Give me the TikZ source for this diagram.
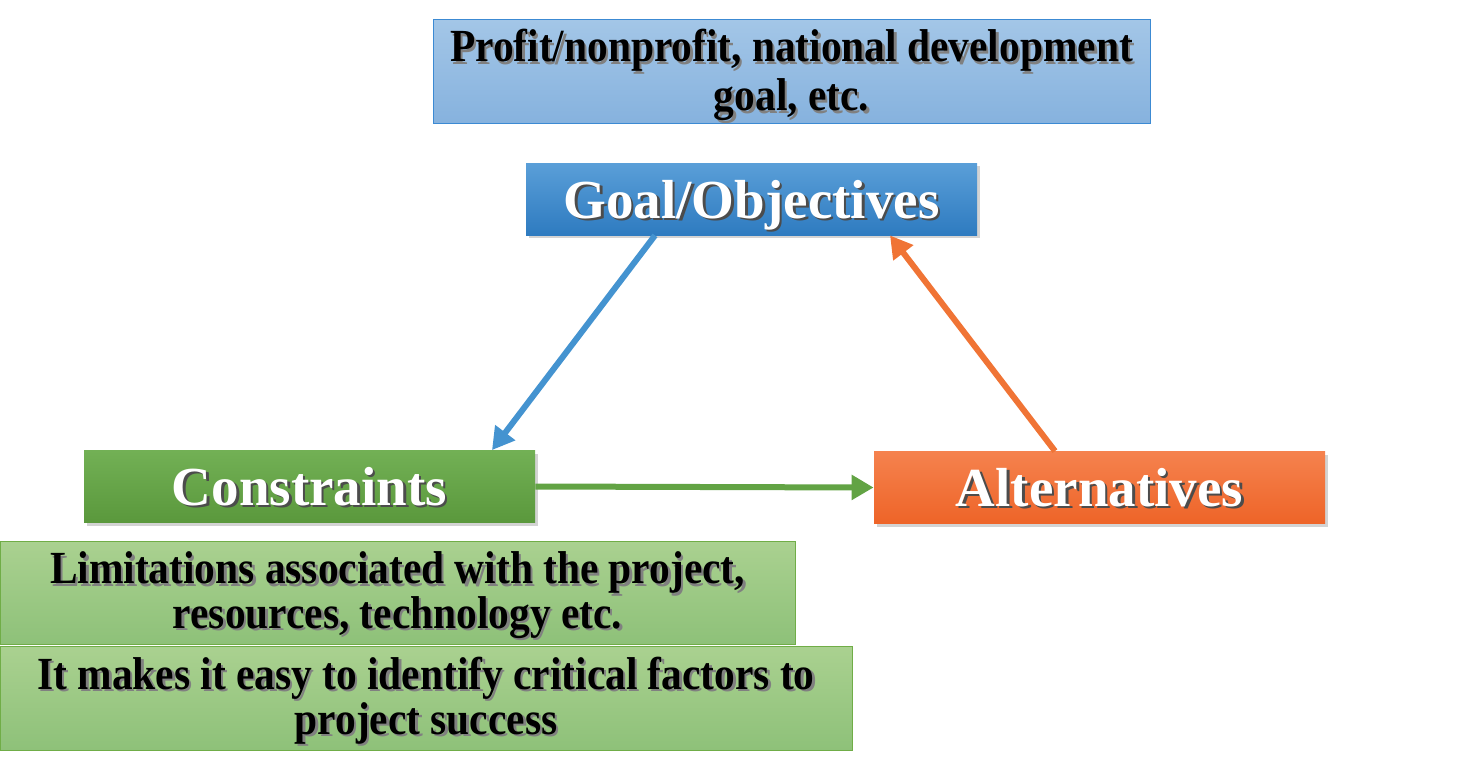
\documentclass[tikz,border=0pt]{standalone}
\usepackage{fontspec}
\setmainfont{Liberation Serif}
\newfontfamily\condfont[FakeStretch=0.9]{Liberation Serif}
\usepackage{tikz}
\usetikzlibrary{arrows.meta,positioning,shadows}
\definecolor{goaltop}{HTML}{5A9FD8}
\definecolor{goalbot}{HTML}{2E7BC0}
\definecolor{constop}{HTML}{72B055}
\definecolor{consbot}{HTML}{5A983C}
\definecolor{alttop}{HTML}{F5824E}
\definecolor{altbot}{HTML}{EE6428}
\definecolor{skytop}{HTML}{A3C6E7}
\definecolor{skybot}{HTML}{86B2DE}
\definecolor{skyline}{HTML}{3C8AD3}
\definecolor{leaftop}{HTML}{AAD190}
\definecolor{leafbot}{HTML}{8EC179}
\definecolor{leafline}{HTML}{70AD47}
\definecolor{bluearr}{HTML}{4493D0}
\definecolor{orangearr}{HTML}{F07435}
\definecolor{greenarr}{HTML}{62A344}
\newcommand\shd[2]{\makebox[0pt][l]{\kern1.2pt\raisebox{-1.2pt}{\textcolor{#1}{#2}}}#2}
\newcommand\twolines[3]{\raisebox{#1}[\height][\depth]{\begin{tabular}{@{}c@{}}\shd{gray}{#2}\\\shd{gray}{#3}\end{tabular}}}

\begin{document}
\begin{tikzpicture}[
  x=0.5pt, y=-0.5pt,
  every node/.style={inner sep=0pt},
  title/.style={minimum height=36pt, minimum width=225.5pt, text=white,
    text height=19pt, text depth=0pt,
    font=\bfseries\fontsize{27.5}{30}\selectfont,
    drop shadow={shadow xshift=1.5pt, shadow yshift=-1.5pt, opacity=0.35}},
  note/.style={draw, line width=0.5pt, minimum height=52pt,
    font=\condfont\bfseries\fontsize{23}{21.5}\selectfont},
  arr/.style={-{Triangle[length=11pt,width=12pt]}, line width=3pt}
]
\useasboundingbox (0,0) rectangle (1470,772);

\node[note, draw=skyline, top color=skytop, bottom color=skybot, minimum width=358.5pt,
  font=\condfont\bfseries\fontsize{23}{24.5}\selectfont]
  (purpose) at (791.5,71.5) {\twolines{-2.5pt}{Profit/nonprofit, national development}{goal, etc.}};

\node[title, top color=goaltop, bottom color=goalbot] (goal) at (751.5,199) {\shd{black!70}{Goal/Objectives}};
\node[title, top color=constop, bottom color=consbot] (constr) at (309.5,486.5) {\shd{black!70}{Constraints}};
\node[title, top color=alttop, bottom color=altbot] (alt) at (1099.5,487.5) {\shd{black!70}{Alternatives}};

\node[note, draw=leafline, top color=leaftop, bottom color=leafbot, minimum width=397.5pt, minimum height=51.5pt]
  (limits) at (397.5,592.5) {\twolines{-2pt}{Limitations associated with the project,}{resources, technology etc.}};
\node[note, draw=leafline, top color=leaftop, bottom color=leafbot, minimum width=426pt]
  (factors) at (426,698) {\twolines{-2pt}{It makes it easy to identify critical factors to}{project success}};

\draw[arr, bluearr] ([xshift=-48.25pt]goal.south) -- ([xshift=91.25pt]constr.north);
\draw[arr, orangearr] ([xshift=-22.25pt]alt.north) -- ([xshift=69.25pt]goal.south);
\draw[arr, greenarr] (constr.east) -- (alt.west);
\end{tikzpicture}
\end{document}
